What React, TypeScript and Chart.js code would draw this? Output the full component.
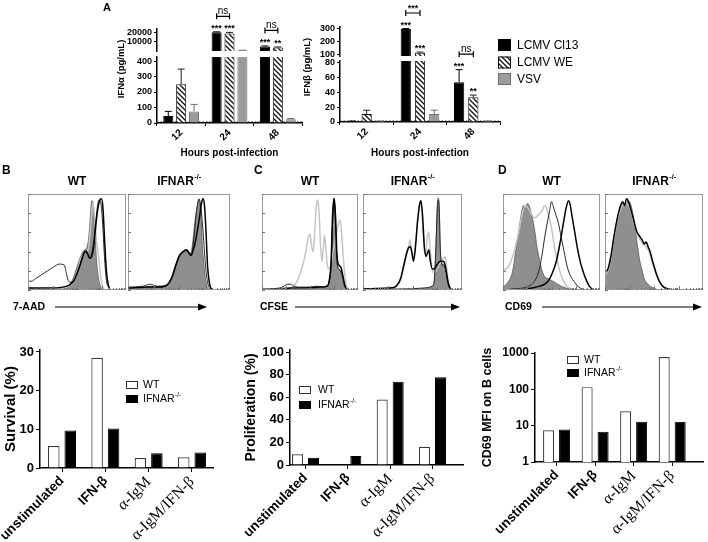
import React, { useEffect, useRef } from "react";
import { Chart, registerables } from "chart.js";

Chart.register(...registerables);

const SANS = "'Liberation Sans', Arial, Helvetica, sans-serif";
const SERIF = "'Liberation Serif', 'Times New Roman', serif";

// ---------------- Panel A data ----------------
const hours = ["12", "24", "48"];
const seriesNames = ["LCMV Cl13", "LCMV WE", "VSV"];

const ifnaCl13 = [45, 20500, 5000];
const ifnaWE = [250, 19000, 3800];
const ifnaVSV = [75, 800, 25];
const ifnaCl13Err = [30, 400, 500];
const ifnaWEErr = [98, 1300, 600];
const ifnaVSVErr = [45, 60, 4];
const ifnaUpperTicks = [10000, 20000];
const ifnaLowerTicks = [0, 100, 200, 300, 400];
const ifnaStars = [
  { ds: 0, i: 1, t: "***" },
  { ds: 1, i: 1, t: "***" },
  { ds: 0, i: 2, t: "***" },
  { ds: 1, i: 2, t: "**" },
];
const ifnaBrackets = [
  { i: 1, t: "ns" },
  { i: 2, t: "ns" },
];

const ifnbCl13 = [1, 300, 54];
const ifnbWE = [11, 110, 33.5];
const ifnbVSV = [1, 11, 1];
const ifnbCl13Err = [0.3, 3, 17];
const ifnbWEErr = [5, 6, 3];
const ifnbVSVErr = [0.3, 5, 0.3];
const ifnbUpperTicks = [100, 200, 300];
const ifnbLowerTicks = [0, 20, 40, 60, 80];
const ifnbStars = [
  { ds: 0, i: 1, t: "***" },
  { ds: 1, i: 1, t: "***" },
  { ds: 0, i: 2, t: "***" },
  { ds: 1, i: 2, t: "**" },
];
const ifnbBrackets = [
  { i: 1, t: "***" },
  { i: 2, t: "ns" },
];

// ---------------- Bottom bar charts data ----------------
const treatments = ["unstimulated", "IFN-β", "α-IgM", "α-IgM/IFN-β"];
const survivalWT = [5.7, 28.5, 2.6, 2.75];
const survivalKO = [9.7, 10.2, 3.8, 4.0];
const survivalTicks = [0, 10, 20, 30];
const prolifWT = [9.5, 0.3, 58, 16.2];
const prolifKO = [6.5, 8, 73.7, 77.6];
const prolifTicks = [0, 20, 40, 60, 80, 100];
const cd69WT = [7.5, 115, 25, 770];
const cd69KO = [7.8, 6.8, 12.9, 12.9];
const cd69Ticks = [1, 10, 100, 1000];

// ---------------- Histogram curves (x: % of axis, y: % of max) ----------------
const bWtThick = [[0,2],[25,2],[35,3],[42,5],[47,10],[51,20],[55,32],[57,38],[59,40],[61,37],[63,33],[65,35],[67,45],[69,65],[71,83],[73,93],[75,95],[76.5,85],[78,55],[80,20],[82,5],[85,0],[100,0]];
const bWtThin = [[0,10],[3,9],[8,12],[14,16],[20,20],[26,24],[32,27],[37,26],[39,18],[41,10],[44,8],[48,12],[52,22],[55,33],[57,40],[59,42],[61,38],[63,35],[65,38],[67,50],[69,70],[71,88],[72.5,94],[74,92],[76,72],[78,35],[80,10],[82,3],[85,0],[100,0]];
const bWtLight = [[0,1],[35,2],[42,4],[47,10],[51,22],[54,33],[57,40],[59,42],[61,40],[63,55],[65,80],[66.5,92],[68,75],[70,50],[72,35],[74,15],[76,4],[78,0],[100,0]];
const bWtFill = [[0,0],[30,1],[38,2],[42,5],[46,12],[50,24],[53,33],[56,40],[58,42],[60,44],[62,55],[63.5,75],[65,93],[66.5,90],[68,65],[70,30],[72,12],[74,4],[76,1],[79,0],[100,0]];

const bKoThick = [[0,2],[20,3],[30,3],[38,5],[43,13],[47,26],[50,35],[54,40],[57,42],[60,38],[62,36],[64,42],[66,50],[68,62],[70,75],[72,90],[73.5,95],[75,88],[76.5,60],[78,25],[80,6],[82,1],[85,0],[100,0]];
const bKoThin = [[0,3],[15,4],[22,6],[28,4],[35,4],[39,6],[43,14],[47,27],[50,35],[53,39],[56,41],[58,42],[60,39],[62,37],[64,48],[66,70],[68,88],[69.5,95],[71,90],[72.5,75],[74,55],[76,25],[78,8],[80,2],[83,0],[100,0]];
const bKoFill = [[0,1],[15,2],[22,4],[28,3],[35,3],[39,5],[43,12],[47,25],[50,33],[53,38],[56,40],[58,41],[60,38],[62,40],[64,55],[66,75],[68,88],[69.5,94],[71,85],[72,70],[73,45],[75,20],[77,6],[79,1],[82,0],[100,0]];

const cWtThick = [[0,0],[20,1],[30,2],[45,2],[60,3],[68,4],[70,10],[72,30],[73.5,78],[75,95],[76.5,78],[78,38],[80,26],[82,24],[84,16],[86,6],[88,1],[91,0],[100,0]];
const cWtThin = [[0,1],[18,2],[23,4],[27,6],[30,6],[33,4],[40,3],[50,3],[57,4],[62,3],[67,4],[70,8],[72,25],[73.5,70],[75,94],[76.5,70],[78,30],[80,22],[82,20],[84,14],[86,5],[88,1],[91,0],[100,0]];
const cWtLight = [[0,1],[25,2],[33,4],[37,10],[40,18],[43,28],[46,42],[48,54],[50,58],[52,44],[53.5,40],[55,62],[56.5,86],[58,94],[59.5,80],[61,45],[62.5,30],[64,45],[65,57],[66.5,44],[68,26],[70,22],[72,28],[74,40],[76,50],[78,62],[80,70],[81.5,73],[83,58],[85,30],[87,9],[89,2],[92,0],[100,0]];
const cWtFill = [[0,0],[45,1],[60,2],[66,3],[69,6],[71,15],[72.5,40],[74,80],[75,96],[76.5,82],[77.5,45],[79,24],[81,21],[83,15],[85,6],[87,1],[90,0],[100,0]];

const cKoThick = [[0,1],[25,2],[32,3],[35,6],[38,12],[41,25],[44,38],[46,44],[48,45],[49.5,38],[51,30],[53,45],[55,70],[57,88],[58.5,93],[60,80],[62,45],[63.5,35],[65,38],[66.5,42],[68,30],[70,22],[72,22],[74,25],[76,28],[78,30],[80,30],[82,29],[84,20],[86,8],[88,2],[91,0],[100,0]];
const cKoLight = [[0,1],[30,2],[35,5],[38,10],[41,22],[44,36],[46,45],[47.5,52],[49,42],[51,33],[53,48],[55,72],[57,90],[58.5,92],[60,75],[62,40],[63.5,38],[65,55],[66.5,60],[68,40],[70,20],[72,18],[75,22],[78,28],[81,33],[83,35],[84.5,25],[86,8],[88,2],[91,0],[100,0]];
const cKoThin = [[0,1],[40,1],[60,2],[70,4],[72,10],[73.5,40],[75,85],[76,94],[77,85],[78,45],[80,26],[82,25],[84,18],[86,6],[88,1],[91,0],[100,0]];
const cKoFill = [[0,0],[50,1],[65,2],[70,4],[72,10],[73.5,40],[75,85],[76,96],[77,85],[78,45],[79.5,28],[81,27],[83,25],[85,12],[87,3],[89,0],[100,0]];

const dWtThick = [[0,0],[20,1],[30,2],[38,4],[43,6],[47,10],[51,18],[55,30],[59,50],[62,68],[65,85],[67.5,93],[69,90],[71,78],[74,60],[77,42],[80,28],[83,18],[86,10],[89,4],[92,1],[95,0],[100,0]];
const dWtThin = [[0,0],[10,1],[20,2],[28,5],[33,10],[37,20],[40,35],[43,55],[46,72],[48,82],[50,92],[51.5,88],[54,80],[57,70],[60,55],[63,40],[66,25],[70,14],[74,8],[78,3],[82,1],[85,0],[100,0]];
const dWtLight = [[0,20],[3,22],[6,25],[10,35],[14,50],[17,65],[20,80],[23,88],[26,85],[30,78],[33,75],[36,78],[40,82],[43,88],[45,85],[47,78],[50,65],[53,45],[56,30],[59,18],[62,10],[66,4],[70,1],[75,0],[100,0]];
const dWtFill = [[0,3],[5,8],[10,20],[13,40],[16,60],[19,80],[21,88],[23,85],[25,90],[27,88],[29,80],[31,72],[33,60],[35,45],[37,35],[39,25],[41,18],[43,14],[46,12],[50,10],[55,7],[60,4],[65,2],[70,1],[75,0],[100,0]];

const dKoThick = [[0,18],[3,22],[6,35],[9,55],[12,72],[15,85],[18,92],[20,88],[22,95],[24,92],[26,85],[28,78],[30,70],[32,62],[34,58],[36,55],[38,52],[40,48],[42,50],[44,45],[46,40],[48,32],[50,25],[53,15],[56,8],[60,3],[65,1],[70,0],[100,0]];
const dKoLight = [[0,15],[3,20],[6,32],[9,52],[12,70],[15,82],[18,88],[21,90],[24,88],[27,80],[30,68],[33,58],[36,52],[39,48],[42,45],[45,40],[48,30],[51,20],[54,12],[58,5],[62,1],[66,0],[100,0]];
const dKoFill = [[0,15],[3,20],[6,30],[9,50],[12,70],[15,85],[18,90],[21,88],[24,93],[26,90],[28,82],[30,70],[32,55],[34,40],[36,28],[38,20],[40,12],[43,7],[46,4],[50,2],[55,0],[100,0]];

const histYTicks = [0, 20, 40, 60, 80, 100];
const histDecadeStarts = [0, 25, 50, 75];
const histMinorSteps = [1, 2, 3, 4, 5, 6, 7, 8, 9];

// ---------------- helpers ----------------
type Rect = { L: number; T: number; W: number; H: number };
type Area = { x1: number; y1: number; x2: number; y2: number };
type Spec = { rect: Rect; make: (c: HTMLCanvasElement) => any };

const F = (size: number, weight = "normal", fam = SANS) => `${weight} ${size}px ${fam}`;

const fix = (size: number, horiz: boolean) => (s: any) => {
  if (horiz) s.height = size;
  else s.width = size;
  s.paddingLeft = 0;
  s.paddingRight = 0;
  s.paddingTop = 0;
  s.paddingBottom = 0;
};

function txt(ctx: any, t: string, x: number, y: number, font: string, align = "left", baseline = "middle", rot = 0) {
  ctx.save();
  ctx.font = font;
  ctx.fillStyle = "#000";
  ctx.textAlign = align;
  ctx.textBaseline = baseline;
  ctx.translate(x, y);
  if (rot) ctx.rotate(rot);
  ctx.fillText(t, 0, 0);
  ctx.restore();
}

function supText(ctx: any, base: string, sup: string, x: number, y: number, size: number, weight: string, align: string) {
  ctx.save();
  ctx.font = F(size, weight);
  const wb = ctx.measureText(base).width;
  const ss = size * 0.62;
  ctx.font = F(ss, weight);
  const ws = ctx.measureText(sup).width;
  const x0 = align === "center" ? x - (wb + ws) / 2 : x;
  ctx.fillStyle = "#000";
  ctx.textAlign = "left";
  ctx.textBaseline = "middle";
  ctx.font = F(size, weight);
  ctx.fillText(base, x0, y);
  ctx.font = F(ss, weight);
  ctx.fillText(sup, x0 + wb + 0.5, y - size * 0.38);
  ctx.restore();
}

function arrow(ctx: any, x0: number, x1: number, y: number) {
  ctx.save();
  ctx.strokeStyle = "#000";
  ctx.fillStyle = "#000";
  ctx.lineWidth = 1.2;
  ctx.beginPath();
  ctx.moveTo(x0, y);
  ctx.lineTo(x1 - 6, y);
  ctx.stroke();
  ctx.beginPath();
  ctx.moveTo(x1, y);
  ctx.lineTo(x1 - 9, y - 3.5);
  ctx.lineTo(x1 - 9, y + 3.5);
  ctx.closePath();
  ctx.fill();
  ctx.restore();
}

let tileCache: HTMLCanvasElement | null = null;
function hatchTile() {
  if (tileCache) return tileCache;
  const t = document.createElement("canvas");
  t.width = 5;
  t.height = 5;
  const g = t.getContext("2d")!;
  g.fillStyle = "#fff";
  g.fillRect(0, 0, 5, 5);
  g.strokeStyle = "#111";
  g.lineWidth = 1.3;
  g.beginPath();
  g.moveTo(-1, -1);
  g.lineTo(6, 6);
  g.moveTo(-1, 4);
  g.lineTo(1, 6);
  g.moveTo(4, -1);
  g.lineTo(6, 1);
  g.stroke();
  tileCache = t;
  return t;
}

const baseOptions = (rect: Rect, area: Area, padBottom: number) => ({
  responsive: false,
  animation: false,
  devicePixelRatio: 1,
  events: [],
  layout: {
    padding: { left: 0, top: area.y1 - rect.T, right: rect.L + rect.W - area.x2, bottom: padBottom },
  },
  plugins: { legend: { display: false }, tooltip: { enabled: false }, title: { display: false } },
});

// ---------------- Panel A builder ----------------
function buildA(o: any): Spec {
  const { rect, area } = o;
  const upper = o.part === "upper";
  const X = (x: number) => x - rect.L;
  const Y = (y: number) => y - rect.T;
  const inPart = (v: number) => (upper ? v > o.lowerMax : v <= o.lowerMax);
  return {
    rect,
    make: (canvas: HTMLCanvasElement) => {
      const pat = canvas.getContext("2d")!.createPattern(hatchTile(), "repeat");
      const fills: any[] = ["#000", pat, "#9b9b9b"];
      const borders = ["#000", "#111", "#6e6e6e"];
      const errCol = ["#000", "#222", "#707070"];
      const datasets = o.vals.map((arr: number[], d: number) => ({
        label: seriesNames[d],
        data: arr.map((v) => (upper ? (v > o.lowerMax ? v : null) : v)),
        backgroundColor: fills[d],
        borderColor: borders[d],
        borderWidth: 1,
        clip: 0,
        categoryPercentage: o.catPct,
        barPercentage: o.barPct,
      }));
      const deco = {
        id: "decoA",
        beforeDatasetsDraw(chart: any) {
          if (o.limit === undefined) return;
          const ctx = chart.ctx;
          const ca = chart.chartArea;
          const y = chart.scales.y.getPixelForValue(o.limit);
          ctx.save();
          ctx.strokeStyle = "#555";
          ctx.lineWidth = 1;
          ctx.setLineDash([1.5, 2]);
          ctx.beginPath();
          ctx.moveTo(ca.left, y);
          ctx.lineTo(ca.right, y);
          ctx.stroke();
          ctx.restore();
        },
        afterDatasetsDraw(chart: any) {
          const ctx = chart.ctx;
          const ys = chart.scales.y;
          const topPix = (d: number, i: number) => ys.getPixelForValue(o.vals[d][i] + o.errs[d][i]);
          ctx.save();
          o.vals.forEach((arr: number[], d: number) => {
            const meta = chart.getDatasetMeta(d);
            arr.forEach((v, i) => {
              if (!inPart(v)) return;
              const el = meta.data[i];
              if (!el) return;
              const x = el.x;
              const y0 = ys.getPixelForValue(v);
              const y1 = topPix(d, i);
              ctx.strokeStyle = errCol[d];
              ctx.lineWidth = 1;
              ctx.beginPath();
              ctx.moveTo(x, y0);
              ctx.lineTo(x, y1);
              ctx.moveTo(x - 3.5, y1);
              ctx.lineTo(x + 3.5, y1);
              ctx.stroke();
            });
          });
          ctx.fillStyle = "#000";
          o.stars.forEach((s: any) => {
            const v = o.vals[s.ds][s.i];
            if (!inPart(v)) return;
            const x = chart.getDatasetMeta(s.ds).data[s.i].x;
            ctx.font = F(9, "bold");
            ctx.textAlign = "center";
            ctx.textBaseline = "alphabetic";
            ctx.fillText(s.t, x, topPix(s.ds, s.i) - 1);
          });
          o.brackets.forEach((b: any) => {
            const v = Math.max(o.vals[0][b.i], o.vals[1][b.i]);
            if (!inPart(v)) return;
            const x0 = chart.getDatasetMeta(0).data[b.i].x;
            const x1 = chart.getDatasetMeta(1).data[b.i].x;
            const y = Math.min(topPix(0, b.i), topPix(1, b.i)) - 15.5;
            ctx.strokeStyle = "#000";
            ctx.lineWidth = 1.2;
            ctx.beginPath();
            ctx.moveTo(x0, y);
            ctx.lineTo(x1, y);
            ctx.moveTo(x0, y - 3);
            ctx.lineTo(x0, y + 3);
            ctx.moveTo(x1, y - 3);
            ctx.lineTo(x1, y + 3);
            ctx.stroke();
            const star = b.t.includes("*");
            ctx.font = star ? F(9, "bold") : F(10);
            ctx.textAlign = "center";
            ctx.textBaseline = "alphabetic";
            ctx.fillText(b.t, (x0 + x1) / 2, y - (star ? 2.5 : 2));
          });
          ctx.restore();
        },
        afterDraw(chart: any) {
          const ctx = chart.ctx;
          if (o.yTitle) txt(ctx, o.yTitle.t, X(o.yTitle.x), Y(o.yTitle.y), F(9.5, "bold"), "center", "middle", -Math.PI / 2);
          if (o.letter) txt(ctx, o.letter.t, X(o.letter.x), Y(o.letter.y), F(11, "bold"));
          if (o.legend) {
            const ly = [39, 56.5, 73];
            seriesNames.forEach((n, d) => {
              const bx = X(498);
              const by = Y(ly[d]);
              ctx.save();
              ctx.fillStyle = fills[d];
              ctx.fillRect(bx, by, 13, 12);
              ctx.strokeStyle = borders[d];
              ctx.lineWidth = 1;
              ctx.strokeRect(bx + 0.5, by + 0.5, 12, 11);
              ctx.restore();
              txt(ctx, n, X(517), by + 6.5, F(12));
            });
          }
        },
      };
      return {
        type: "bar",
        data: { labels: hours, datasets },
        options: {
          ...baseOptions(rect, area, upper ? rect.T + rect.H - area.y2 : 0),
          scales: {
            x: {
              type: "category",
              display: !upper,
              offset: true,
              grid: { display: true, drawOnChartArea: false, drawTicks: true, tickLength: 3, color: "#000", lineWidth: 1 },
              border: { display: true, color: "#000", width: 1.5 },
              ticks: {
                color: "#000",
                font: { family: SANS, size: 10, weight: "bold" },
                minRotation: 45,
                maxRotation: 45,
                autoSkip: false,
                padding: 1,
              },
              title: {
                display: true,
                text: "Hours post-infection",
                color: "#000",
                font: { family: SANS, size: 10, weight: "bold" },
                padding: { top: 0, bottom: 6 },
              },
              afterFit: fix(rect.T + rect.H - area.y2, true),
            },
            y: {
              type: "linear",
              min: o.min,
              max: o.max,
              afterBuildTicks: (s: any) => {
                s.ticks = o.ticks.map((v: number) => ({ value: v }));
              },
              grid: { display: true, drawOnChartArea: false, drawTicks: true, tickLength: 3, color: "#000" },
              border: { display: true, color: "#000", width: 1.5 },
              ticks: { color: "#000", font: { family: SANS, size: 9, weight: "bold" }, padding: 2, callback: (v: any) => String(v) },
              afterFit: fix(area.x1 - rect.L, false),
            },
          },
        },
        plugins: [deco],
      };
    },
  };
}

// ---------------- Histogram builder ----------------
const histStyles: any = {
  thick: { borderColor: "#000", borderWidth: 1.5 },
  thin: { borderColor: "#2a2a2a", borderWidth: 1 },
  light: { borderColor: "#c4c4c4", borderWidth: 1.5 },
  fill: { borderColor: "#5c5c5c", borderWidth: 0.8, backgroundColor: "#8f8f8f", fill: "origin" },
};

function buildHist(o: any): Spec {
  const { rect, area } = o;
  const X = (x: number) => x - rect.L;
  const Y = (y: number) => y - rect.T;
  return {
    rect,
    make: () => {
      const datasets = o.curves.map((c: any) => ({
        data: c.pts.map((p: number[]) => ({ x: p[0], y: p[1] })),
        pointRadius: 0,
        fill: false,
        tension: 0.3,
        cubicInterpolationMode: "monotone",
        ...histStyles[c.kind],
      }));
      const deco = {
        id: "decoH",
        afterDraw(chart: any) {
          const ctx = chart.ctx;
          const ca = chart.chartArea;
          const xs = chart.scales.x;
          const ys = chart.scales.y;
          ctx.save();
          ctx.strokeStyle = "#9a9a9a";
          ctx.lineWidth = 1;
          ctx.strokeRect(ca.left + 0.5, ca.top + 0.5, ca.right - ca.left - 1, ca.bottom - ca.top - 1);
          ctx.strokeStyle = "#777";
          ctx.beginPath();
          histYTicks.forEach((v) => {
            const y = Math.round(ys.getPixelForValue(v)) + 0.5;
            ctx.moveTo(ca.left, y);
            ctx.lineTo(ca.left + 3, y);
          });
          histDecadeStarts.forEach((d) => {
            histMinorSteps.forEach((k) => {
              const v = d + 25 * Math.log10(k);
              const x = Math.round(xs.getPixelForValue(v)) + 0.5;
              ctx.moveTo(x, ca.bottom);
              ctx.lineTo(x, ca.bottom - (k === 1 ? 4 : 2));
            });
          });
          ctx.stroke();
          ctx.restore();
          const cx = (ca.left + ca.right) / 2;
          if (o.sup) supText(ctx, o.header, o.sup, cx, Y(182), 12, "bold", "center");
          else txt(ctx, o.header, cx, Y(182), F(12, "bold"), "center");
          if (o.letter) txt(ctx, o.letter.t, X(o.letter.x), Y(o.letter.y), F(12, "bold"));
          if (o.axis) {
            txt(ctx, o.axis.t, X(o.axis.x), Y(o.axis.y), F(10.5, "bold"));
            arrow(ctx, X(o.axis.a0), X(o.axis.a1), Y(o.axis.y));
          }
        },
      };
      return {
        type: "line",
        data: { datasets },
        options: {
          responsive: false,
          animation: false,
          devicePixelRatio: 1,
          events: [],
          layout: {
            padding: {
              left: area.x1 - rect.L,
              right: rect.L + rect.W - area.x2,
              top: area.y1 - rect.T,
              bottom: rect.T + rect.H - area.y2,
            },
          },
          plugins: { legend: { display: false }, tooltip: { enabled: false } },
          scales: {
            x: { type: "linear", min: 0, max: 100, display: false },
            y: { type: "linear", min: 0, max: 100, display: false },
          },
        },
        plugins: [deco],
      };
    },
  };
}

// ---------------- Bottom bar builder ----------------
function buildBars(o: any): Spec {
  const { rect, area } = o;
  const X = (x: number) => x - rect.L;
  const Y = (y: number) => y - rect.T;
  return {
    rect,
    make: () => {
      const datasets = [
        {
          label: "WT",
          data: o.wt.map((v: number, i: number) => ({ x: i, y: v })),
          backgroundColor: "#fff",
          borderColor: "#3a3a3a",
          borderWidth: 1.2,
          categoryPercentage: o.catPct,
          barPercentage: o.barPct,
        },
        {
          label: "IFNAR-/-",
          data: o.ko.map((v: number, i: number) => ({ x: i, y: v })),
          backgroundColor: "#000",
          borderColor: "#000",
          borderWidth: 1,
          categoryPercentage: o.catPct,
          barPercentage: o.barPct,
        },
      ];
      const deco = {
        id: "decoB",
        afterDraw(chart: any) {
          const ctx = chart.ctx;
          const lg = o.legend;
          ctx.save();
          ctx.lineWidth = 1;
          ctx.fillStyle = "#fff";
          ctx.fillRect(X(lg.x), Y(lg.y1), 12, 8);
          ctx.strokeStyle = "#333";
          ctx.strokeRect(X(lg.x) + 0.5, Y(lg.y1) + 0.5, 11, 7);
          ctx.fillStyle = "#000";
          ctx.fillRect(X(lg.x), Y(lg.y2), 12, 8);
          ctx.restore();
          txt(ctx, "WT", X(lg.tx), Y(lg.y1) + 4.5, F(10.5));
          supText(ctx, "IFNAR", "-/-", X(lg.tx), Y(lg.y2) + 4.5, 10.5, "normal", "left");
        },
      };
      return {
        type: "bar",
        data: { datasets },
        options: {
          ...baseOptions(rect, area, 0),
          scales: {
            x: {
              type: "linear",
              min: o.xMin,
              max: o.xMax,
              offset: false,
              afterBuildTicks: (s: any) => {
                s.ticks = treatments.map((_, i) => ({ value: i }));
              },
              grid: { display: true, offset: false, drawOnChartArea: false, drawTicks: true, tickLength: 4, color: "#000" },
              border: { display: true, color: "#000", width: 1.5 },
              ticks: {
                autoSkip: false,
                minRotation: 45,
                maxRotation: 45,
                padding: 1,
                color: "#000",
                callback: (v: any) => treatments[v] ?? "",
                font: (c: any) => {
                  const l = c && c.tick ? String(c.tick.label) : "";
                  return l.startsWith("α")
                    ? { family: SERIF, size: 15.5, weight: "normal" }
                    : { family: SANS, size: 13.5, weight: "bold" };
                },
              },
              afterFit: fix(rect.T + rect.H - area.y2, true),
            },
            y: {
              type: o.log ? "logarithmic" : "linear",
              min: o.yMin,
              max: o.yMax,
              afterBuildTicks: (s: any) => {
                s.ticks = o.yTicks.map((v: number) => ({ value: v }));
              },
              grid: { display: true, drawOnChartArea: false, drawTicks: true, tickLength: 4, color: "#000" },
              border: { display: true, color: "#000", width: 1.5 },
              ticks: { color: "#000", font: { family: SANS, size: o.tickSize, weight: "bold" }, padding: 2, callback: (v: any) => String(v) },
              title: {
                display: true,
                text: o.yTitle,
                color: "#000",
                font: { family: SANS, size: o.yTitleSize, weight: "bold" },
                padding: { top: o.yTitlePad, bottom: 0 },
              },
              afterFit: fix(area.x1 - rect.L, false),
            },
          },
        },
        plugins: [deco],
      };
    },
  };
}

// ---------------- Specs ----------------
const ifnaVals = [ifnaCl13, ifnaWE, ifnaVSV];
const ifnaErrs = [ifnaCl13Err, ifnaWEErr, ifnaVSVErr];
const ifnbVals = [ifnbCl13, ifnbWE, ifnbVSV];
const ifnbErrs = [ifnbCl13Err, ifnbWEErr, ifnbVSVErr];

const specs: Spec[] = [
  buildA({
    rect: { L: 95, T: 0, W: 215, H: 56 }, area: { x1: 157, y1: 29, x2: 302, y2: 53.5 },
    part: "upper", vals: ifnaVals, errs: ifnaErrs, lowerMax: 426, min: 0, max: 24000, ticks: ifnaUpperTicks,
    stars: ifnaStars, brackets: ifnaBrackets, letter: { t: "A", x: 103, y: 8 }, catPct: 0.8, barPct: 0.78,
  }),
  buildA({
    rect: { L: 95, T: 30, W: 215, H: 135 }, area: { x1: 157, y1: 57, x2: 302, y2: 123 },
    part: "lower", vals: ifnaVals, errs: ifnaErrs, lowerMax: 426, min: 0, max: 426, ticks: ifnaLowerTicks,
    stars: ifnaStars, brackets: ifnaBrackets, limit: 8, yTitle: { t: "IFNα (pg/mL)", x: 121, y: 69 }, catPct: 0.8, barPct: 0.78,
  }),
  buildA({
    rect: { L: 295, T: 0, W: 215, H: 58 }, area: { x1: 340, y1: 27, x2: 500, y2: 57 },
    part: "upper", vals: ifnbVals, errs: ifnbErrs, lowerMax: 82.7, min: 85, max: 315, ticks: ifnbUpperTicks,
    stars: ifnbStars, brackets: ifnbBrackets, catPct: 0.8, barPct: 0.72,
  }),
  buildA({
    rect: { L: 295, T: 30, W: 330, H: 135 }, area: { x1: 340, y1: 61, x2: 500, y2: 122 },
    part: "lower", vals: ifnbVals, errs: ifnbErrs, lowerMax: 82.7, min: 0, max: 82.7, ticks: ifnbLowerTicks,
    stars: ifnbStars, brackets: ifnbBrackets, limit: 1.5, yTitle: { t: "IFNβ (pg/mL)", x: 307, y: 67 }, legend: true,
    catPct: 0.8, barPct: 0.72,
  }),
  buildHist({
    rect: { L: 0, T: 160, W: 240, H: 160 }, area: { x1: 28, y1: 194, x2: 126, y2: 290 },
    curves: [ { pts: bWtThick, kind: "thick" }, { pts: bWtThin, kind: "thin" }, { pts: bWtLight, kind: "light" }, { pts: bWtFill, kind: "fill" } ],
    header: "WT", letter: { t: "B", x: 2, y: 171 }, axis: { t: "7-AAD", x: 13, y: 307, a0: 55, a1: 207 },
  }),
  buildHist({
    rect: { L: 122, T: 160, W: 118, H: 160 }, area: { x1: 128, y1: 194, x2: 230, y2: 290 },
    curves: [ { pts: bKoThick, kind: "thick" }, { pts: bKoThin, kind: "thin" }, { pts: bKoFill, kind: "fill" } ],
    header: "IFNAR", sup: "-/-",
  }),
  buildHist({
    rect: { L: 235, T: 160, W: 235, H: 160 }, area: { x1: 262, y1: 194, x2: 358, y2: 290 },
    curves: [ { pts: cWtThick, kind: "thick" }, { pts: cWtThin, kind: "thin" }, { pts: cWtLight, kind: "light" }, { pts: cWtFill, kind: "fill" } ],
    header: "WT", letter: { t: "C", x: 254, y: 171 }, axis: { t: "CFSE", x: 260, y: 307, a0: 295, a1: 460 },
  }),
  buildHist({
    rect: { L: 358, T: 160, W: 112, H: 160 }, area: { x1: 363, y1: 194, x2: 462, y2: 290 },
    curves: [ { pts: cKoThick, kind: "thick" }, { pts: cKoThin, kind: "thin" }, { pts: cKoLight, kind: "light" }, { pts: cKoFill, kind: "fill" } ],
    header: "IFNAR", sup: "-/-",
  }),
  buildHist({
    rect: { L: 470, T: 160, W: 238, H: 160 }, area: { x1: 503, y1: 194, x2: 600, y2: 290 },
    curves: [ { pts: dWtThick, kind: "thick" }, { pts: dWtThin, kind: "thin" }, { pts: dWtLight, kind: "light" }, { pts: dWtFill, kind: "fill" } ],
    header: "WT", letter: { t: "D", x: 498, y: 171 }, axis: { t: "CD69", x: 505, y: 307, a0: 542, a1: 702 },
  }),
  buildHist({
    rect: { L: 600, T: 160, W: 108, H: 160 }, area: { x1: 605, y1: 194, x2: 703, y2: 290 },
    curves: [ { pts: dKoThick, kind: "thick" }, { pts: dKoLight, kind: "light" }, { pts: dKoFill, kind: "fill" } ],
    header: "IFNAR", sup: "-/-",
  }),
  buildBars({
    rect: { L: 0, T: 330, W: 235, H: 212 }, area: { x1: 40, y1: 350, x2: 213, y2: 468 },
    wt: survivalWT, ko: survivalKO, xMin: -0.508, xMax: 3.485, yMin: 0, yMax: 30.5, yTicks: survivalTicks,
    yTitle: "Survival (%)", yTitleSize: 15, yTitlePad: 2, tickSize: 13, catPct: 0.76, barPct: 0.7,
    legend: { x: 126, y1: 381, y2: 395, tx: 143 },
  }),
  buildBars({
    rect: { L: 240, T: 330, W: 235, H: 212 }, area: { x1: 290, y1: 350, x2: 463, y2: 465 },
    wt: prolifWT, ko: prolifKO, xMin: -0.366, xMax: 3.72, yMin: 0, yMax: 101.8, yTicks: prolifTicks,
    yTitle: "Proliferation (%)", yTitleSize: 14, yTitlePad: 2.6, tickSize: 13, catPct: 0.756, barPct: 0.69,
    legend: { x: 299, y1: 386, y2: 401, tx: 318 },
  }),
  buildBars({
    rect: { L: 470, T: 330, W: 238, H: 212 }, area: { x1: 535, y1: 353, x2: 703, y2: 462 },
    wt: cd69WT, ko: cd69KO, xMin: -0.56, xMax: 3.8, log: true, yMin: 1, yMax: 1000, yTicks: cd69Ticks,
    yTitle: "CD69 MFI on B cells", yTitleSize: 12.5, yTitlePad: 10.5, tickSize: 12, catPct: 0.83, barPct: 0.69,
    legend: { x: 567, y1: 356, y2: 369, tx: 584 },
  }),
];

export default function App() {
  const refs = useRef<(HTMLCanvasElement | null)[]>([]);
  useEffect(() => {
    const charts = specs.map((s, i) => {
      const c = refs.current[i]!;
      return new Chart(c, s.make(c));
    });
    return () => charts.forEach((c) => c.destroy());
  }, []);
  return (
    <div style={{ position: "absolute", left: 0, top: 0, width: 708, height: 542, background: "#fff", overflow: "hidden" }}>
      {specs.map((s, i) => (
        <canvas
          key={i}
          ref={(el) => {
            refs.current[i] = el;
          }}
          width={s.rect.W}
          height={s.rect.H}
          style={{ position: "absolute", left: s.rect.L, top: s.rect.T, width: s.rect.W, height: s.rect.H }}
        />
      ))}
    </div>
  );
}
